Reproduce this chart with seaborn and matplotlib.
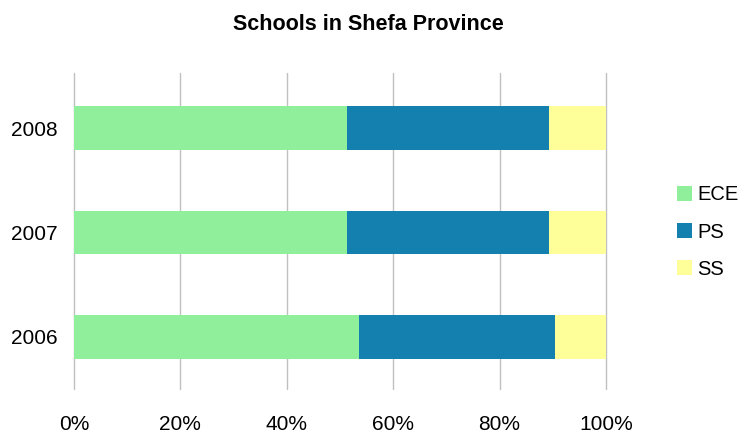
import matplotlib
matplotlib.use("Agg")
import matplotlib.pyplot as plt
from matplotlib.patches import Patch
from matplotlib.ticker import PercentFormatter
import numpy as np
import pandas as pd
import seaborn as sns

# Share of schools by level (percent of total) in Shefa Province
years = ["2008", "2007", "2006"]
ece = [51.3, 51.3, 53.6]
ps = [38.0, 38.0, 36.8]
ss = [10.7, 10.7, 9.6]

series_names = ["ECE", "PS", "SS"]
series_colors = ["#8FEF9B", "#1380B0", "#FFFF99"]

sns.set_theme(style="white")
plt.rcParams["font.family"] = ["Liberation Sans", "DejaVu Sans"]

df = pd.DataFrame({"year": years, "ECE": ece, "PS": ps, "SS": ss})
df["c_ECE"] = df["ECE"]
df["c_PS"] = df["ECE"] + df["PS"]
df["c_SS"] = df["c_PS"] + df["SS"]

fig = plt.figure(figsize=(7.41, 4.33), dpi=100)
ax = fig.add_axes([74 / 741, 1 - 389 / 433, (606 - 74) / 741, (389 - 73) / 433])

# Stacked bars: draw cumulative totals from the outermost layer inward
for name, color in zip(reversed(series_names), reversed(series_colors)):
    sns.barplot(data=df, x="c_" + name, y="year", order=years, color=color,
                orient="h", width=0.42, saturation=1, linewidth=0, ax=ax)

ax.set_xlim(0, 100)
ax.set_ylim(2.5, -0.53)
ax.set_xticks([0, 20, 40, 60, 80, 100])
ax.xaxis.set_major_formatter(PercentFormatter(decimals=0))
ax.grid(axis="x", color="#C0C0C0", linewidth=1)
for gl in ax.get_xgridlines():
    gl.set_clip_on(False)
ax.grid(axis="y", visible=False)
ax.set_axisbelow(True)
for s in ax.spines.values():
    s.set_visible(False)
ax.tick_params(axis="both", length=0, labelsize=15, colors="black")
ax.tick_params(axis="x", pad=19)
ax.tick_params(axis="y", pad=12)
ax.set_xlabel("")
ax.set_ylabel("")

fig.text(368 / 741, 1 - 25 / 433, "Schools in Shefa Province",
         ha="center", va="center", fontsize=15.5, fontweight="bold", color="black")

handles = [Patch(facecolor=c, edgecolor="none", label=n)
           for n, c in zip(series_names, series_colors)]
leg = fig.legend(handles=handles, loc="center left", bbox_to_anchor=(677 / 741, 1 - 232 / 433),
                 frameon=False, fontsize=14.5, handlelength=0.74, handleheight=0.72,
                 handletextpad=0.28, labelspacing=0.9, borderpad=0, borderaxespad=0)
for t in leg.get_texts():
    t.set_color("black")

fig.savefig("out.png", dpi=100)
